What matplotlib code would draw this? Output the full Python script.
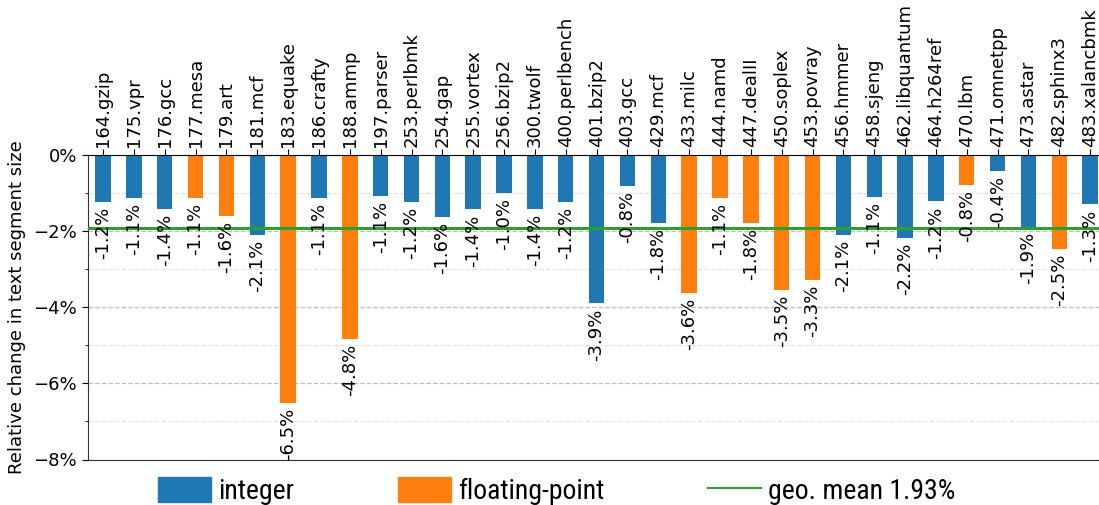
import matplotlib
matplotlib.use("Agg")
import matplotlib.pyplot as plt
from matplotlib.ticker import MultipleLocator, PercentFormatter
from matplotlib.patches import Patch
from matplotlib.lines import Line2D
from matplotlib import font_manager

benchmarks = ["164.gzip", "175.vpr", "176.gcc", "177.mesa", "179.art", "181.mcf",
              "183.equake", "186.crafty", "188.ammp", "197.parser", "253.perlbmk",
              "254.gap", "255.vortex", "256.bzip2", "300.twolf", "400.perlbench",
              "401.bzip2", "403.gcc", "429.mcf", "433.milc", "444.namd", "447.dealII",
              "450.soplex", "453.povray", "456.hmmer", "458.sjeng", "462.libquantum",
              "464.h264ref", "470.lbm", "471.omnetpp", "473.astar", "482.sphinx3",
              "483.xalancbmk"]
changes = [-1.24, -1.12, -1.41, -1.13, -1.59, -2.11, -6.52, -1.12, -4.83, -1.09,
           -1.24, -1.64, -1.43, -1.00, -1.41, -1.24, -3.90, -0.82, -1.79, -3.63,
           -1.13, -1.79, -3.55, -3.29, -2.11, -1.11, -2.17, -1.22, -0.79, -0.43,
           -1.89, -2.47, -1.30]
is_float = [False, False, False, True, True, False, True, False, True, False,
            False, False, False, False, False, False, False, False, False, True,
            True, True, True, True, False, False, False, False, True, False,
            False, True, False]
geo_mean = -1.93
legend_labels = ["integer", "floating-point", "geo. mean 1.93%"]

C_INT = "#1f77b4"
C_FP = "#ff7f0e"
C_MEAN = "#2ca02c"

available = {f.name for f in font_manager.fontManager.ttflist}
leg_font, leg_size, narrow = "Liberation Sans", 17, False
for name in ["Liberation Sans Narrow", "Nimbus Sans Narrow", "Arial Narrow", "Roboto Condensed"]:
    if name in available:
        leg_font, leg_size, narrow = name, 20, True
        break
em = leg_size * 100 / 72.0

plt.rcParams["font.family"] = "DejaVu Sans"
plt.rcParams["font.size"] = 13

fig = plt.figure(figsize=(10.99, 5.05), dpi=100)
ax = fig.add_axes([87.6 / 1099, 1 - 459.5 / 505, 1018 / 1099, 304.5 / 505])

x = list(range(len(benchmarks)))
colors = [C_FP if f else C_INT for f in is_float]
ax.bar(x, changes, width=0.5, color=colors, zorder=2)
ax.axhline(geo_mean, color=C_MEAN, lw=2.2, zorder=3)

for xi, v in zip(x, changes):
    ax.annotate(f"{v:.1f}%", xy=(xi, v), xytext=(0, -3.5), textcoords="offset points",
                rotation=90, ha="center", va="top", fontsize=13, zorder=4)

ax.set_xlim(-0.5, len(benchmarks) - 0.5)
ax.set_ylim(-8, 0)
ax.yaxis.set_major_locator(MultipleLocator(2))
ax.yaxis.set_minor_locator(MultipleLocator(1))
ax.yaxis.set_major_formatter(PercentFormatter(decimals=0))
ax.tick_params(axis="y", which="major", labelsize=13, length=4)
ax.tick_params(axis="y", which="minor", length=2)
ax.grid(axis="y", which="major", ls="--", color="#bdbdbd", lw=0.9, zorder=0)
ax.grid(axis="y", which="minor", ls="--", color="#e3e3e3", lw=0.9, zorder=0)
ax.set_axisbelow(True)

ax.xaxis.tick_top()
ax.set_xticks(x)
ax.set_xticklabels(benchmarks, rotation=90, fontsize=13)
ax.tick_params(axis="x", length=4, pad=2)

ax.spines["top"].set_color("black")
ax.spines["left"].set_color("#333333")
ax.spines["bottom"].set_color("#333333")
ax.set_ylabel("Relative change in text segment size", fontsize=13, labelpad=5)

handles = [Patch(color=C_INT), Patch(color=C_FP), Line2D([], [], color=C_MEAN, lw=1.5)]
fig.legend(handles, legend_labels, loc="center", ncol=3, frameon=False,
           bbox_to_anchor=(557 / 1099, 1 - 491 / 505),
           prop={"family": leg_font, "size": leg_size},
           handlelength=53 / em, handleheight=27 / em, handletextpad=7 / em,
           columnspacing=104 / em)

fig.savefig("out.png", dpi=100)
